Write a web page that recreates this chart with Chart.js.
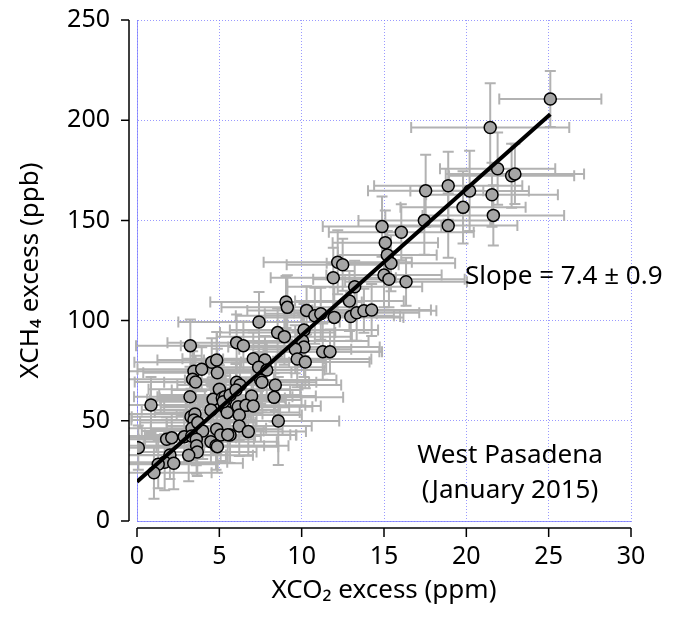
<!DOCTYPE html>
<html>
<head>
<meta charset="utf-8">
<script src="https://cdn.jsdelivr.net/npm/chart.js@4"></script>
<style>
  html, body { margin: 0; padding: 0; background: #fff; }
  #wrap { width: 691px; height: 620px; }
</style>
</head>
<body>
<div id="wrap"><canvas id="xch4Chart" width="691" height="620"></canvas></div>
<script>
// XCO2 excess (ppm) per sounding
const co2Excess = [
  25.1, 21.45, 21.9, 22.75, 22.95, 18.9, 20.2, 21.56, 19.8, 21.64,
  18.9, 17.53, 17.45, 14.88, 16.05, 15.08, 15.2, 15.42, 12.19, 12.49,
  11.92, 13.22, 15.0, 15.3, 16.34, 12.9, 9.05, 9.13, 10.3, 10.8,
  11.16, 11.98, 12.98, 13.34, 13.78, 14.25, 7.41, 8.54, 8.95, 10.14,
  6.05, 6.46, 10.06, 10.14, 9.61, 11.28, 11.72, 7.06, 7.77, 9.73,
  10.22, 7.39, 7.88, 6.05, 6.25, 7.51, 7.59, 8.4, 8.58, 8.32,
  6.96, 6.15, 6.62, 7.06, 6.21, 6.21, 6.76, 5.65, 3.24, 4.54,
  4.84, 3.46, 3.93, 4.88, 3.38, 3.56, 5.0, 3.22, 4.62, 5.18,
  5.39, 0.85, 4.49, 5.34, 5.48, 3.28, 3.52, 3.46, 3.34, 3.69,
  4.84, 3.99, 2.87, 1.8, 2.11, 5.08, 5.51, 3.32, 3.6, 4.49,
  4.8, 4.88, 3.62, 3.66, 0.08, 3.14, 2.0, 1.68, 2.23, 1.29,
  1.03, 5.34, 5.24, 5.65, 6.01
];
// XCH4 excess (ppb) per sounding
const ch4Excess = [
  210.6, 196.4, 175.8, 172.3, 173.2, 167.3, 164.7, 162.8, 156.5, 152.5,
  147.4, 164.8, 149.9, 146.9, 144.1, 138.9, 132.7, 128.6, 129.1, 127.9,
  121.4, 116.9, 122.7, 120.6, 119.4, 109.8, 109.3, 106.6, 105.1, 102.4,
  103.4, 101.6, 102.0, 103.9, 104.9, 105.3, 99.3, 94.0, 92.0, 95.3,
  89.0, 87.5, 89.8, 86.8, 85.7, 84.5, 84.5, 81.0, 80.3, 80.8,
  79.3, 76.7, 75.3, 69.2, 67.9, 70.4, 69.2, 67.9, 49.9, 61.7,
  62.4, 57.0, 57.7, 57.4, 52.9, 47.4, 44.6, 42.9, 87.5, 79.2,
  80.3, 74.7, 75.7, 74.0, 70.7, 69.4, 65.7, 62.0, 60.7, 61.4,
  60.4, 57.9, 55.4, 56.7, 54.2, 52.0, 53.4, 50.4, 46.3, 49.1,
  45.8, 44.9, 42.1, 40.8, 41.6, 42.9, 43.1, 42.4, 40.8, 39.6,
  37.6, 37.1, 37.6, 34.4, 36.6, 32.8, 32.9, 29.3, 28.8, 28.3,
  24.1, 62.0, 59.5, 62.9, 65.4
];
// 1-sigma uncertainties
const co2Err = [
  3.1, 4.8, 3.5, 3.8, 4.2, 4.5, 3.6, 4.0, 3.8, 4.3,
  4.2, 3.5, 4.0, 3.6, 4.4, 3.2, 3.0, 3.9, 4.5, 3.4,
  3.8, 4.1, 3.5, 4.6, 3.7, 3.3, 4.6, 4.0, 3.6, 4.8,
  3.4, 4.2, 3.0, 3.8, 4.4, 3.6, 4.9, 3.5, 4.1, 4.5,
  4.2, 3.8, 4.0, 4.6, 3.4, 3.6, 3.0, 4.3, 3.7, 4.5,
  3.9, 4.1, 3.5, 4.4, 3.8, 4.6, 3.3, 4.0, 3.7, 4.2,
  3.9, 4.5, 3.6, 4.1, 3.8, 4.4, 3.5, 4.0, 3.3, 4.7,
  3.6, 4.2, 3.9, 4.5, 4.1, 3.7, 4.3, 3.4, 4.0, 3.8,
  4.6, 3.2, 4.2, 3.9, 4.4, 3.6, 4.1, 3.8, 4.5, 3.5,
  4.0, 3.7, 4.3, 3.4, 3.9, 4.6, 3.8, 4.2, 3.5, 4.0,
  4.4, 3.7, 4.1, 3.6, 4.0, 3.9, 3.4, 3.8, 4.2, 3.6,
  3.5, 4.1, 3.8, 4.3, 3.9
];
const ch4Err = [
  14, 22, 18, 16, 15, 17, 20, 16, 18, 15,
  16, 18, 17, 15, 14, 16, 12, 14, 16, 13,
  15, 13, 16, 14, 12, 15, 13, 16, 12, 14,
  13, 15, 12, 14, 11, 13, 15, 12, 14, 13,
  14, 12, 13, 15, 12, 14, 11, 13, 12, 14,
  13, 12, 14, 11, 13, 12, 14, 13, 22, 12,
  13, 11, 14, 12, 13, 15, 12, 14, 13, 12,
  14, 13, 11, 12, 14, 13, 12, 15, 11, 13,
  12, 14, 13, 11, 12, 14, 13, 12, 11, 13,
  12, 14, 13, 11, 12, 13, 14, 12, 13, 11,
  12, 13, 14, 12, 11, 13, 12, 14, 13, 12,
  13, 12, 14, 11, 13
];
// fitted line end points
const fitX = [0, 25.1];
const fitY = [19.6, 203];

const xTicks = [0, 5, 10, 15, 20, 25, 30];
const yTicks = [0, 50, 100, 150, 200, 250];

const FONT = '"Noto Sans", Lato, sans-serif';
const GRID_BLUE = 'rgba(120, 120, 255, 0.75)';

const scatterPoints = co2Excess.map((x, i) => ({ x: x, y: ch4Excess[i] }));
const fitPoints = fitX.map((x, i) => ({ x: x, y: fitY[i] }));

// error bars drawn under the markers
const errorBars = {
    id: 'errorBars',
    beforeDatasetsDraw(chart) {
        const ctx = chart.ctx;
        const xs = chart.scales.x;
        const ys = chart.scales.y;
        const area = chart.chartArea;
        const cap = 5.5;
        ctx.save();
        ctx.beginPath();
        ctx.rect(area.left - 8, area.top - 8, area.right - area.left + 16, area.bottom - area.top + 16);
        ctx.clip();
        ctx.strokeStyle = '#b2b2b2';
        ctx.lineWidth = 2;
        co2Excess.forEach((x, i) => {
            const px = xs.getPixelForValue(x);
            const py = ys.getPixelForValue(ch4Excess[i]);
            const x1 = xs.getPixelForValue(x - co2Err[i]);
            const x2 = xs.getPixelForValue(x + co2Err[i]);
            const y1 = ys.getPixelForValue(ch4Excess[i] - ch4Err[i]);
            const y2 = ys.getPixelForValue(ch4Excess[i] + ch4Err[i]);
            ctx.beginPath();
            ctx.moveTo(x1, py); ctx.lineTo(x2, py);
            ctx.moveTo(x1, py - cap); ctx.lineTo(x1, py + cap);
            ctx.moveTo(x2, py - cap); ctx.lineTo(x2, py + cap);
            ctx.moveTo(px, y1); ctx.lineTo(px, y2);
            ctx.moveTo(px - cap, y1); ctx.lineTo(px + cap, y1);
            ctx.moveTo(px - cap, y2); ctx.lineTo(px + cap, y2);
            ctx.stroke();
        });
        ctx.restore();
    }
};

// black axes set off from the plot area, plus the text notes
const offsetAxes = {
    id: 'offsetAxes',
    afterDraw(chart) {
        const ctx = chart.ctx;
        const xs = chart.scales.x;
        const ys = chart.scales.y;
        const area = chart.chartArea;
        const ax = area.left - 8;
        const ay = area.bottom + 7;
        ctx.save();
        ctx.strokeStyle = '#000';
        ctx.lineWidth = 1.5;
        ctx.beginPath();
        ctx.moveTo(ax, ys.getPixelForValue(250));
        ctx.lineTo(ax, ys.getPixelForValue(0));
        yTicks.forEach(v => {
            const p = ys.getPixelForValue(v);
            ctx.moveTo(ax, p); ctx.lineTo(ax - 8, p);
        });
        ctx.moveTo(xs.getPixelForValue(0), ay);
        ctx.lineTo(xs.getPixelForValue(30), ay);
        xTicks.forEach(v => {
            const p = xs.getPixelForValue(v);
            ctx.moveTo(p, ay); ctx.lineTo(p, ay + 9);
        });
        ctx.stroke();

        ctx.fillStyle = '#000';
        ctx.font = '26px ' + FONT;
        ctx.textBaseline = 'middle';
        ctx.textAlign = 'left';
        ctx.fillText('Slope = 7.4 \u00b1 0.9', area.right - 166, area.top + 257);
        ctx.textAlign = 'center';
        ctx.fillText('West Pasadena', area.right - 121, area.top + 436);
        ctx.fillText('(January 2015)', area.right - 121, area.top + 471);
        ctx.restore();
    }
};

const ctx = document.getElementById('xch4Chart').getContext('2d');

new Chart(ctx, {
    type: 'scatter',
    data: {
        datasets: [{
            label: 'Fit',
            type: 'line',
            data: fitPoints,
            borderColor: '#000',
            borderWidth: 4,
            pointRadius: 0,
            fill: false,
            order: 0
        }, {
            label: 'Soundings',
            data: scatterPoints,
            backgroundColor: '#a6a6a6',
            borderColor: '#000',
            borderWidth: 1.5,
            pointRadius: 6,
            order: 1
        }]
    },
    options: {
        responsive: false,
        animation: false,
        layout: {
            padding: { left: 0, right: 60, top: 20, bottom: 0 }
        },
        plugins: {
            legend: { display: false },
            tooltip: { enabled: false }
        },
        scales: {
            x: {
                type: 'linear',
                min: 0,
                max: 30,
                afterBuildTicks: axis => { axis.ticks = xTicks.map(v => ({ value: v })); },
                afterFit: axis => {
                    axis.height = 99;
                    axis.paddingLeft = 0;
                    axis.paddingRight = 0;
                },
                grid: {
                    color: GRID_BLUE,
                    lineWidth: 1,
                    drawTicks: false
                },
                border: { display: true, color: GRID_BLUE, dash: [1, 2] },
                ticks: {
                    color: '#000',
                    padding: 21,
                    font: { family: FONT, size: 25 }
                },
                title: {
                    display: true,
                    text: 'XCO\u2082 excess (ppm)',
                    color: '#000',
                    font: { family: FONT, size: 26 },
                    padding: { top: 0, bottom: 14 }
                }
            },
            y: {
                type: 'linear',
                min: 0,
                max: 250,
                afterBuildTicks: axis => { axis.ticks = yTicks.map(v => ({ value: v })); },
                afterFit: axis => {
                    axis.width = 137;
                    axis.paddingTop = 0;
                    axis.paddingBottom = 0;
                },
                grid: {
                    color: GRID_BLUE,
                    lineWidth: 1,
                    drawTicks: false
                },
                border: { display: true, color: GRID_BLUE, dash: [1, 2] },
                ticks: {
                    color: '#000',
                    padding: 27,
                    font: { family: FONT, size: 25 }
                },
                title: {
                    display: true,
                    text: 'XCH\u2084 excess (ppb)',
                    color: '#000',
                    font: { family: FONT, size: 26 },
                    padding: { top: 15, bottom: 0 }
                }
            }
        }
    },
    plugins: [errorBars, offsetAxes]
});
</script>
</body>
</html>
